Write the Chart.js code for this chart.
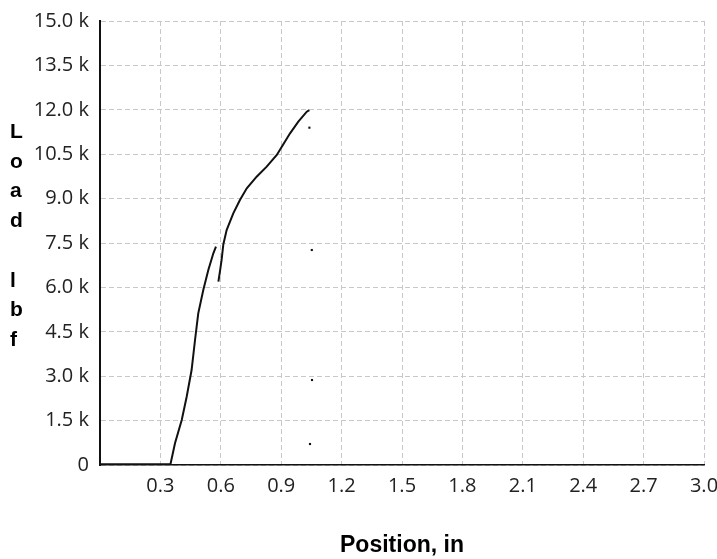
<!DOCTYPE html>
<html>
<head>
<meta charset="utf-8">
<title>Load vs Position</title>
<script src="https://cdn.jsdelivr.net/npm/chart.js@4.4.1/dist/chart.umd.min.js"></script>
<style>
    body { margin: 0; background: #fff; }
    #chart-box { width: 717px; height: 559px; }
</style>
</head>
<body>
<div id="chart-box"><canvas id="load-chart" width="717" height="559"></canvas></div>
<script>
// curve up to the small drop near 0.58 in
const posA = [0, 0.10, 0.20, 0.30, 0.350, 0.3725, 0.406, 0.4305, 0.455, 0.472, 0.488, 0.513, 0.538, 0.563, 0.576];
const loadA = [25, 25, 25, 25, 25, 733, 1520, 2307, 3209, 4223, 5125, 5912, 6588, 7152, 7375];

// curve after the drop
const posB = [0.588, 0.596, 0.604, 0.6125, 0.629, 0.662, 0.695, 0.729, 0.778, 0.828, 0.878, 0.903, 0.944, 0.985, 1.027, 1.040];
const loadB = [6193, 6550, 6926, 7450, 7939, 8503, 8953, 9348, 9740, 10078, 10473, 10754, 11206, 11600, 11937, 11990];

// stray samples at the end of the test
const posDots = [1.040, 1.052, 1.053, 1.043];
const loadDots = [11396, 7263, 2871, 709];

const xTickLabels = ['', '0.3', '0.6', '0.9', '1.2', '1.5', '1.8', '2.1', '2.4', '2.7', '3.0'];
const yTickLabels = ['0', '1.5 k', '3.0 k', '4.5 k', '6.0 k', '7.5 k', '9.0 k', '10.5 k', '12.0 k', '13.5 k', '15.0 k'];
const xTitle = 'Position, in';
const yTitle = ['L', 'o', 'a', 'd', '', 'l', 'b', 'f'];

document.addEventListener("DOMContentLoaded", function () {
    const toPoints = (xs, ys) => xs.map((x, i) => ({ x: x, y: ys[i] }));

    // 1. y title is written one letter per line, not rotated
    const stackedTitle = {
        id: 'stackedTitle',
        afterDraw(chart) {
            const ctx = chart.ctx;
            ctx.save();
            ctx.font = 'bold 21px "Liberation Sans", Arial, sans-serif';
            ctx.fillStyle = '#000';
            ctx.textAlign = 'left';
            ctx.textBaseline = 'alphabetic';
            yTitle.forEach((ch, i) => ctx.fillText(ch, 10, 138 + i * 29.7));
            ctx.restore();
        }
    };

    const tickFont = { family: '"Open Sans", "Noto Sans", sans-serif', size: 20 };
    const lineStyle = {
        type: 'line',
        borderColor: '#111',
        borderWidth: 2,
        pointRadius: 0,
        tension: 0,
        fill: false
    };

    // 2. chart
    new Chart(document.getElementById("load-chart"), {
        type: 'line',
        data: {
            datasets: [
                Object.assign({ label: 'Load A', data: toPoints(posA, loadA) }, lineStyle),
                Object.assign({ label: 'Load B', data: toPoints(posB, loadB) }, lineStyle),
                {
                    type: 'scatter',
                    label: 'Samples',
                    data: toPoints(posDots, loadDots),
                    showLine: false,
                    pointStyle: 'rect',
                    pointRadius: 1.5,
                    backgroundColor: '#111',
                    borderColor: '#111',
                    borderWidth: 0
                }
            ]
        },
        options: {
            responsive: false,
            animation: false,
            layout: { padding: { top: 21, right: 13, left: 0, bottom: 0 } },
            plugins: {
                legend: { display: false },
                tooltip: { enabled: false }
            },
            scales: {
                x: {
                    type: 'linear',
                    min: 0,
                    max: 3,
                    afterFit: function (scale) {
                        scale.height = 94;
                        scale.paddingLeft = 0;
                        scale.paddingRight = 0;
                    },
                    ticks: {
                        stepSize: 0.3,
                        autoSkip: false,
                        maxRotation: 0,
                        padding: 9,
                        color: '#222',
                        font: tickFont,
                        callback: (value, index) => xTickLabels[index]
                    },
                    grid: { color: '#c8c8c8', drawTicks: false },
                    border: { color: '#111', width: 1.5, dash: [5, 3] },
                    title: {
                        display: true,
                        text: xTitle,
                        color: '#000',
                        font: { family: '"Liberation Sans", Arial, sans-serif', size: 23, weight: 'bold' },
                        padding: { top: 0, bottom: 0 }
                    }
                },
                y: {
                    min: 0,
                    max: 15000,
                    afterFit: function (scale) {
                        scale.width = 100;
                        scale.paddingTop = 0;
                        scale.paddingBottom = 0;
                    },
                    ticks: {
                        stepSize: 1500,
                        autoSkip: false,
                        padding: 11,
                        color: '#222',
                        font: tickFont,
                        callback: (value, index) => yTickLabels[index]
                    },
                    grid: { color: '#c8c8c8', drawTicks: false },
                    border: { color: '#111', width: 2, dash: [5, 3] }
                }
            }
        },
        plugins: [stackedTitle]
    });
});
</script>
</body>
</html>
